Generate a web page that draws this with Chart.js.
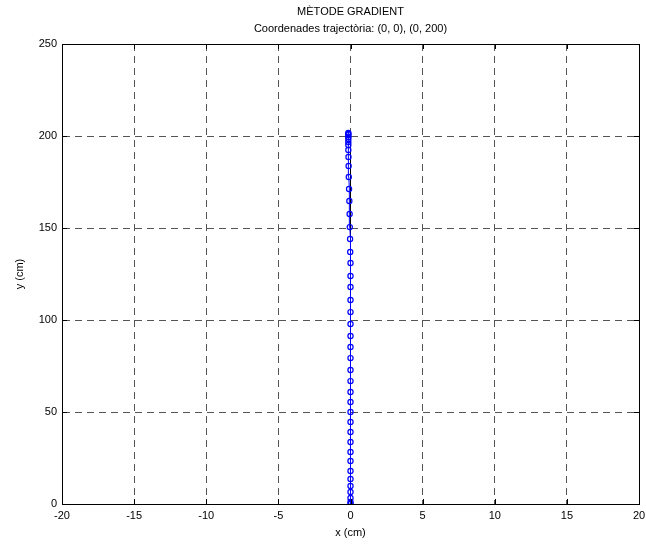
<!DOCTYPE html>
<html>
<head>
<meta charset="utf-8">
<script src="https://cdn.jsdelivr.net/npm/chart.js@4"></script>
<style>
  html, body { margin: 0; padding: 0; background: #fff; }
</style>
</head>
<body>
<canvas id="mycanvas" width="646" height="545"></canvas>
<script>
var titleLines = ['MÈTODE GRADIENT', 'Coordenades trajectòria: (0, 0), (0, 200)'];
var xTicks = [-20, -15, -10, -5, 0, 5, 10, 15, 20];
var yTicks = [0, 50, 100, 150, 200, 250];

// trajectory (cm)
var pathY = [0, 1.1, 3.3, 6.5, 9.8, 13.6, 17.9, 23.4, 28.3, 33.7, 39.1, 44.6, 50.0, 55.4,
  60.9, 66.8, 72.8, 79.3, 85.3, 91.3, 97.8, 104.3, 110.9, 117.9, 123.9, 131.0, 137.0,
  144.0, 150.5, 157.6, 164.7, 171.2, 177.7, 183.7, 188.6, 192.4, 195.1, 196.7, 198.4,
  199.5, 200.5, 201.1, 201.6];
var pathX = [0, 0, 0, 0, 0, 0, 0, 0, 0, 0, 0, 0, 0, 0,
  0, 0, 0, 0, 0, 0, 0, 0, 0, 0, 0, 0, -0.02,
  -0.03, -0.05, -0.06, -0.08, -0.1, -0.12, -0.13, -0.14, -0.15, -0.15, -0.15, -0.15,
  -0.15, -0.15, -0.15, -0.15];
var targetX = [0, 0];
var targetY = [0, 200];

var pathData = [];
for (var i in pathY) {
  pathData.push({x: pathX[i], y: pathY[i]});
}
var targetData = [];
for (var j in targetY) {
  targetData.push({x: targetX[j], y: targetY[j]});
}

var font = 'Liberation Sans, Arial, sans-serif';

// box round the plot, inward ticks on all four sides, title centred on the axes
var boxPlugin = {
  id: 'box',
  afterDraw: function(chart) {
    var c = chart.ctx;
    var a = chart.chartArea;
    var xs = chart.scales.x, ys = chart.scales.y;
    c.save();
    c.strokeStyle = '#000';
    c.lineWidth = 1;
    c.setLineDash([]);
    c.strokeRect(Math.round(a.left) + 0.5, Math.round(a.top) + 0.5,
      Math.round(a.right - a.left), Math.round(a.bottom - a.top));
    c.beginPath();
    xTicks.forEach(function(v) {
      var px = Math.round(xs.getPixelForValue(v)) + 0.5;
      c.moveTo(px, a.bottom); c.lineTo(px, a.bottom - 5);
      c.moveTo(px, a.top); c.lineTo(px, a.top + 5);
    });
    yTicks.forEach(function(v) {
      var py = Math.round(ys.getPixelForValue(v)) + 0.5;
      c.moveTo(a.left, py); c.lineTo(a.left + 5, py);
      c.moveTo(a.right, py); c.lineTo(a.right - 5, py);
    });
    c.stroke();

    c.fillStyle = '#000';
    c.font = '11px ' + font;
    c.textAlign = 'center';
    c.textBaseline = 'middle';
    var cx = (a.left + a.right) / 2;
    c.fillText(titleLines[0], cx, 12);
    c.fillText(titleLines[1], cx, 29);
    c.restore();
  }
};

var ctx = document.getElementById('mycanvas');
var chart = new Chart(ctx, {
  type: 'scatter',
  data: {
    datasets: [
      {
        label: 'trajectoria',
        data: pathData,
        showLine: true,
        borderColor: '#0000ff',
        borderWidth: 1,
        backgroundColor: 'rgba(0,0,0,0)',
        pointBorderColor: '#0000ff',
        pointBorderWidth: 1.2,
        pointRadius: 2.6,
        pointStyle: 'circle',
        order: 1
      },
      {
        label: 'objectiu',
        data: targetData,
        showLine: true,
        borderColor: '#000',
        borderWidth: 1,
        pointRadius: 0,
        order: 2
      }
    ]
  },
  options: {
    responsive: false,
    animation: false,
    layout: { padding: { left: 0, right: 7, top: 44, bottom: 0 } },
    plugins: {
      legend: { display: false },
      tooltip: { enabled: false },
      title: { display: false }
    },
    scales: {
      x: {
        type: 'linear',
        min: -20,
        max: 20,
        afterBuildTicks: function(scale) {
          scale.ticks = xTicks.map(function(v) { return {value: v}; });
        },
        afterFit: function(scale) {
          scale.height = 41;
          scale.paddingLeft = 0;
          scale.paddingRight = 0;
        },
        ticks: { color: '#000', padding: 5, font: { family: font, size: 11 } },
        grid: { color: '#555', lineWidth: 1, drawTicks: false },
        border: { display: true, color: '#000', dash: [7, 5] },
        title: {
          display: true,
          text: 'x (cm)',
          color: '#000',
          font: { family: font, size: 11 },
          padding: { top: 0, bottom: 5 }
        }
      },
      y: {
        type: 'linear',
        min: 0,
        max: 250,
        afterBuildTicks: function(scale) {
          scale.ticks = yTicks.map(function(v) { return {value: v}; });
        },
        afterFit: function(scale) {
          scale.width = 62;
          scale.paddingTop = 0;
          scale.paddingBottom = 0;
        },
        ticks: { color: '#000', padding: 5, font: { family: font, size: 11 } },
        grid: { color: '#555', lineWidth: 1, drawTicks: false },
        border: { display: true, color: '#000', dash: [7, 5] },
        title: {
          display: true,
          text: 'y (cm)',
          color: '#000',
          font: { family: font, size: 11 },
          padding: { top: 13, bottom: 0 }
        }
      }
    }
  },
  plugins: [boxPlugin]
});
</script>
</body>
</html>
